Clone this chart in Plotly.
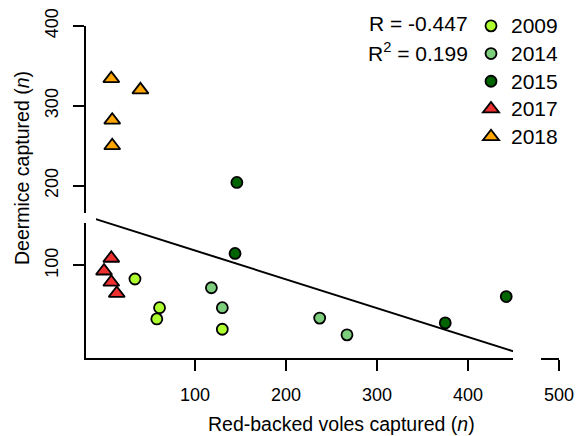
import plotly.graph_objects as go

# ---- data ----
years = ["2009", "2014", "2015", "2017", "2018"]
voles = {
    "2009": [34, 61, 58, 130],
    "2014": [118, 130, 237, 267],
    "2015": [146, 144, 375, 442],
    "2017": [8, 0, 8, 14],
    "2018": [8, 40, 9, 9],
}
deermice = {
    "2009": [83, 47, 33, 20],
    "2014": [72, 47, 34, 13],
    "2015": [204, 115, 28, 61],
    "2017": [109, 93, 79, 65],
    "2018": [334, 320, 282, 250],
}
colors = {
    "2009": "#ADFF2F",
    "2014": "#7CCD7C",
    "2015": "#006400",
    "2017": "#EE3030",
    "2018": "#FFA500",
}
symbols = {"2009": "circle", "2014": "circle", "2015": "circle",
           "2017": "triangle-up", "2018": "triangle-up"}

fit_intercept = 154.8
fit_slope = -0.361
fit_x = [-9, 450]

x_ticks = [100, 200, 300, 400, 500]
y_ticks = [100, 200, 300, 400]
x_range = [-19.8, 500]
y_range = [-16, 400]

x_title = "Red-backed voles captured (<i>n</i>)"
y_title = "Deermice captured (<i>n</i>)"
stat_lines = ["R = -0.447", "R<sup>2</sup> = 0.199"]

FONT = "Liberation Sans, Arial, sans-serif"

fig = go.Figure()

fig.add_trace(go.Scatter(
    x=fit_x, y=[fit_intercept + fit_slope * v for v in fit_x],
    mode="lines", line=dict(color="black", width=2),
    showlegend=False, hoverinfo="skip"))

for yr in years:
    tri = symbols[yr] == "triangle-up"
    fig.add_trace(go.Scatter(
        x=voles[yr], y=deermice[yr],
        name='<span style="font-size:21px">%s</span>' % yr, mode="markers",
        marker=dict(symbol=symbols[yr], size=14 if tri else 11,
                    color=colors[yr], line=dict(color="black", width=1.8)),
    ))

axis_common = dict(showline=True, linecolor="black", linewidth=2,
                   ticks="outside", ticklen=11, tickwidth=2, tickcolor="black",
                   showgrid=False, zeroline=False, automargin=False,
                   tickfont=dict(family=FONT, size=18, color="black"))

fig.update_xaxes(range=x_range, tickvals=x_ticks, ticklabelstandoff=8,
                 **axis_common)
fig.update_yaxes(range=y_range, tickvals=y_ticks, tickangle=-90,
                 ticklabelstandoff=8, **axis_common)

# axis titles (offset from centre as in the reference)
fig.add_annotation(text=x_title, xref="paper", yref="paper",
                   x=(341 - 86) / 473, y=(358 - 424) / 332,
                   xanchor="center", yanchor="middle", showarrow=False,
                   font=dict(family=FONT, size=19.5, color="black"))
fig.add_annotation(text=y_title, xref="paper", yref="paper",
                   x=(22 - 86) / 473, y=(358 - 168) / 332, textangle=-90,
                   xanchor="center", yanchor="middle", showarrow=False,
                   font=dict(family=FONT, size=19.5, color="black"))

# white patches present in the reference
fig.add_shape(type="rect", xref="paper", yref="paper",
              x0=-0.006, x1=0.021, y0=(358 - 223) / 332, y1=(358 - 213) / 332,
              fillcolor="white", line=dict(width=0), layer="above")
fig.add_shape(type="rect", xref="paper", yref="paper",
              x0=(513 - 86) / 473, x1=(541 - 86) / 473,
              y0=(358 - 360) / 332, y1=(358 - 348) / 332,
              fillcolor="white", line=dict(width=0), layer="above")

for i, txt in enumerate(stat_lines):
    fig.add_annotation(text=txt, xref="paper", yref="paper",
                       x=(470 - 86) / 473, y=1 + (26 - (24 + 28 * i)) / 332,
                       xanchor="right", yanchor="middle", showarrow=False,
                       font=dict(family=FONT, size=21, color="black"))

fig.update_layout(
    width=579, height=436,
    margin=dict(l=86, r=20, t=26, b=78, autoexpand=False),
    plot_bgcolor="white", paper_bgcolor="white",
    legend=dict(x=(471 - 86) / 473, y=1 + (26 - 7) / 332,
                xanchor="left", yanchor="top",
                font=dict(family=FONT, size=19, color="black"),
                bgcolor="rgba(0,0,0,0)", borderwidth=0),
    font=dict(family=FONT, color="black"),
)

fig.write_html("out.html", config={"displayModeBar": False},
               post_script="document.body.style.margin='0';document.body.style.padding='0';")
